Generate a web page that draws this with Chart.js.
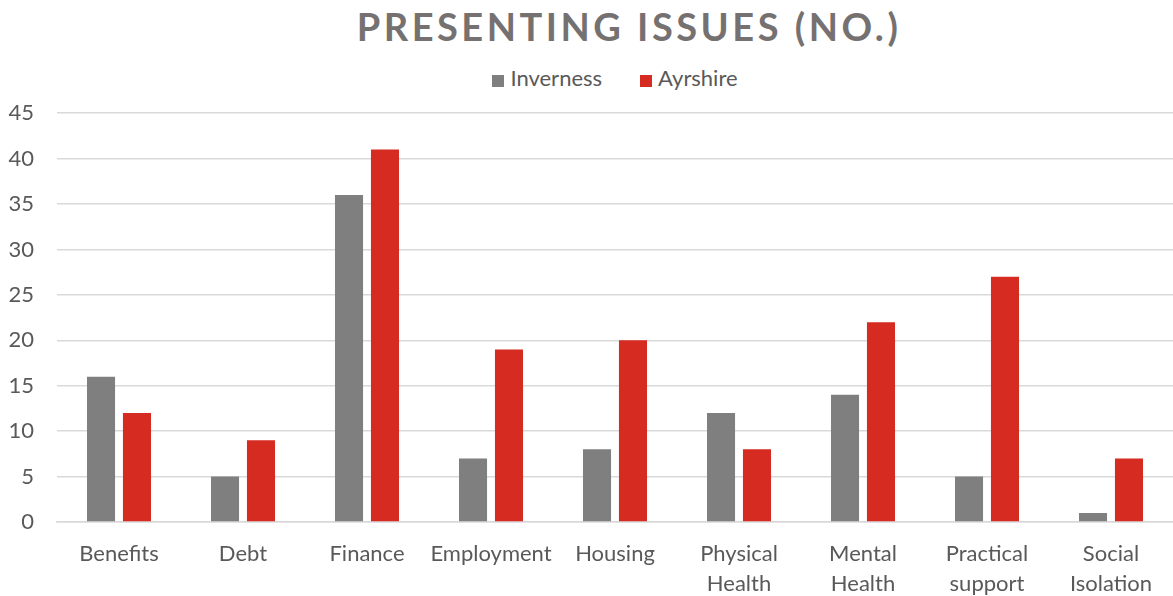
<!DOCTYPE html>
<html>
<head>
<meta charset="utf-8">
<script src="https://cdn.jsdelivr.net/npm/chart.js@4.4.1/dist/chart.umd.min.js"></script>
<style>
    html, body { margin: 0; padding: 0; background: #fff; }
    #wrap { position: relative; width: 1173px; height: 596px; overflow: hidden; }
    #title {
        position: absolute; left: 0; top: 3px; width: 1173px; text-align: center;
        font-family: Lato, sans-serif; font-weight: bold; font-size: 38px;
        letter-spacing: 3.5px; color: #767171; padding-left: 85px; box-sizing: border-box;
    }
    #legend {
        position: absolute; left: 57px; top: 64px; width: 1116px; text-align: center;
        font-family: Lato, sans-serif; font-size: 22px; color: #595959; line-height: 28px;
    }
    #legend .item { display: inline-block; white-space: nowrap; }
    #legend .item + .item { margin-left: 38px; }
    #legend .swatch { display: inline-block; width: 12px; height: 12px; margin-right: 6px; vertical-align: -1px; }
    #box { position: absolute; left: 0; top: 77px; width: 1173px; height: 519px; }
</style>
</head>
<body>
<div id="wrap">
    <div id="title">PRESENTING ISSUES (NO.)</div>
    <div id="legend"></div>
    <div id="box"><canvas id="issuesChart"></canvas></div>
</div>
<script>
// presenting issues by location
const categories = [
    "Benefits", "Debt", "Finance", "Employment", "Housing",
    ["Physical", "Health"], ["Mental", "Health"], ["Practical", "support"], ["Social", "Isolation"]
];
const inverness = [16, 5, 36, 7, 8, 12, 14, 5, 1];
const ayrshire = [12, 9, 41, 19, 20, 8, 22, 27, 7];
const yTicks = [0, 5, 10, 15, 20, 25, 30, 35, 40, 45];

const GREY = "#7f7f7f";
const RED = "#d52b20";
const TEXT = "#595959";
const FONT = "Lato, sans-serif";

const ctx = document.getElementById("issuesChart").getContext("2d");

const chart = new Chart(ctx, {
    type: "bar",
    data: {
        labels: categories,
        datasets: [
            { label: "Inverness", data: inverness, backgroundColor: GREY },
            { label: "Ayrshire", data: ayrshire, backgroundColor: RED }
        ]
    },
    options: {
        responsive: true,
        maintainAspectRatio: false,
        animation: false,
        datasets: {
            bar: { categoryPercentage: 0.58, barPercentage: 0.78 }
        },
        layout: { padding: { top: 0, left: 0, right: 0, bottom: 0 } },
        plugins: {
            legend: { display: false },
            tooltip: { enabled: false }
        },
        scales: {
            x: {
                grid: { display: false, drawTicks: false },
                border: { color: "#d9d9d9", width: 1.5 },
                ticks: {
                    color: TEXT,
                    padding: 17,
                    maxRotation: 0,
                    autoSkip: false,
                    font: { family: FONT, size: 22, lineHeight: 1.36 }
                },
                afterFit: (scale) => { scale.height = 74; }
            },
            y: {
                min: 0,
                max: 45,
                afterBuildTicks: (scale) => {
                    scale.ticks = yTicks.map((v) => ({ value: v }));
                },
                grid: { color: "#d9d9d9", lineWidth: 1.5, drawTicks: false },
                border: { display: false },
                ticks: {
                    color: TEXT,
                    padding: 23,
                    font: { family: FONT, size: 22 }
                },
                afterFit: (scale) => { scale.width = 57; }
            }
        }
    }
});

// legend built from the chart's datasets
const legendEl = document.getElementById("legend");
legendEl.innerHTML = chart.data.datasets
    .map((ds) => `<span class="item"><span class="swatch" style="background:${ds.backgroundColor}"></span>${ds.label}</span>`)
    .join("");
</script>
</body>
</html>
